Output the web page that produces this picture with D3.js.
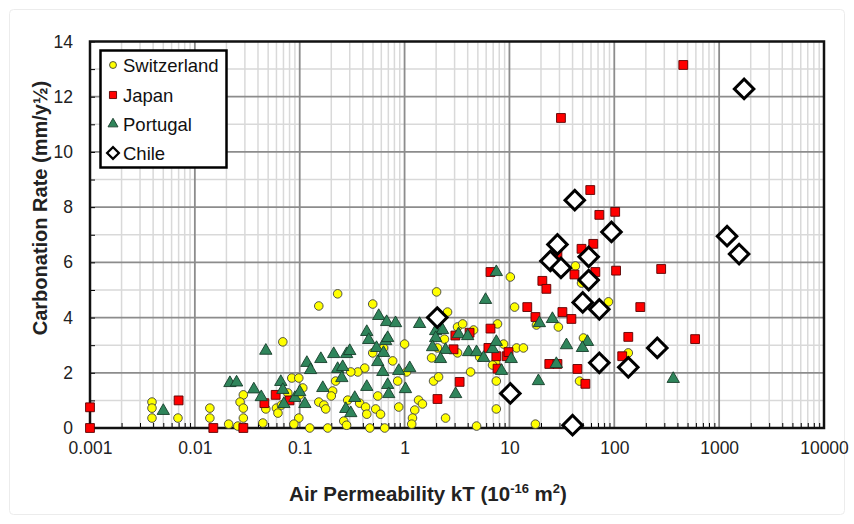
<!DOCTYPE html>
<html>
<head>
<meta charset="utf-8">
<script src="https://cdn.jsdelivr.net/npm/d3@7"></script>
<style>
  html, body { margin: 0; padding: 0; background: #fff; }
  svg { display: block; }
</style>
</head>
<body>
<svg id="chart" width="854" height="524"></svg>
<script>
// ---------------- DATA ----------------
const xTickLabels = ["0.001", "0.01", "0.1", "1", "10", "100", "1000", "10000"];
const yTickLabels = [0, 2, 4, 6, 8, 10, 12, 14];
const seriesNames = ["Switzerland", "Japan", "Portugal", "Chile"];

const switzerland = [
  [0.0039, 0.94], [0.0039, 0.72], [0.0039, 0.36], [0.0069, 0.36], [0.0139, 0.72], [0.0139, 0.36],
  [0.021, 0.14], [0.0257, 0.07], [0.029, 1.2], [0.027, 0.94], [0.029, 0.72], [0.029, 0.36],
  [0.0445, 0.18], [0.0475, 0.69], [0.06, 0.72], [0.062, 0.54], [0.067, 0.83], [0.069, 3.12],
  [0.077, 1.27], [0.084, 1.81], [0.098, 1.81], [0.107, 1.45], [0.1, 1.2], [0.098, 0.36],
  [0.088, 0.14], [0.1246, 0], [0.152, 4.42], [0.152, 0.94], [0.17, 0.83], [0.177, 0.69],
  [0.185, 0], [0.23, 4.86], [0.497, 4.49], [2.02, 4.93], [2.57, 4.2], [1.0, 3.04],
  [0.63, 2.9], [0.497, 2.72], [0.77, 2.43], [0.417, 2.17], [0.358, 2.03], [0.307, 2.03],
  [0.22, 1.7], [0.206, 1.34], [0.2, 1.16], [0.287, 1.01], [0.263, 0.25], [0.28, 0.1],
  [0.373, 0.9], [0.425, 0.76], [0.436, 0.5], [0.466, 0], [0.53, 0.69], [0.59, 0.5],
  [0.555, 1.16], [0.646, 0], [0.86, 1.7], [0.88, 0.76], [1.045, 2.03], [1.25, 0.65],
  [1.19, 0.36], [1.17, 0.14], [1.36, 1.01], [1.48, 0.87], [1.89, 1.7], [2.11, 1.85],
  [1.81, 2.54], [2.06, 2.9], [2.4, 3.22], [2.46, 0.36], [3.2, 3.66], [3.58, 3.77],
  [4.55, 3.55], [7.7, 3.77], [8.8, 3.04], [11.7, 2.9], [13.6, 2.9], [11.2, 4.38],
  [5.2, 2.57], [4.26, 2.03], [7.4, 2.36], [7.5, 1.7], [7.5, 0.69], [4.86, 0.07],
  [17.7, 0.14], [10.2, 5.47], [18.1, 3.73], [29.3, 3.66], [3.2, 2.72], [6.9, 2.28],
  [46.6, 1.7], [42.6, 5.87], [88, 4.57], [50.8, 3.26], [136, 2.72], [48.7, 5.25]
];

const japan = [
  [0.001, 0.75], [0.001, 0], [0.007, 1.0], [0.015, 0], [0.029, 0], [0.046, 0.9],
  [0.059, 1.2], [0.08, 1.0], [2.06, 1.05], [3.35, 1.67], [2.93, 2.85], [3.05, 3.35],
  [4.17, 3.45], [6.6, 3.6], [6.3, 2.9], [7.5, 2.6], [7.7, 2.15], [9.4, 2.6],
  [9.8, 2.75], [6.6, 5.65], [20.6, 5.33], [22.5, 5.04], [41.7, 5.56], [14.8, 4.38],
  [17.7, 4.02], [32, 4.2], [39, 3.95], [24, 2.32], [28.7, 2.32], [44.5, 2.14],
  [59, 8.62], [72, 7.72], [102, 7.83], [63, 6.67], [48.7, 6.49], [66, 5.65],
  [104, 5.7], [280, 5.76], [177, 4.38], [136, 3.3], [119, 2.6], [53, 1.6],
  [455, 13.15], [590, 3.22], [31, 11.23], [28.7, 6.27]
];

const portugal = [
  [0.005, 0.62], [0.0216, 1.63], [0.025, 1.65], [0.0365, 1.4], [0.043, 1.12], [0.0475, 2.8],
  [0.066, 1.67], [0.069, 1.38], [0.0706, 0.87], [0.09, 1.09], [0.1, 1.3], [0.112, 0.87],
  [0.117, 2.36], [0.127, 2.1], [0.159, 2.5], [0.166, 1.45], [0.211, 2.68], [0.23, 2.14],
  [0.252, 1.81], [0.257, 2.21], [0.28, 2.68], [0.3, 2.79], [0.275, 0.69], [0.307, 0.54],
  [0.335, 1.09], [0.436, 3.48], [0.455, 3.19], [0.436, 1.49], [0.567, 4.06], [0.675, 3.84],
  [0.82, 3.8], [0.54, 2.9], [0.66, 3.15], [0.69, 3.26], [0.63, 2.72], [0.555, 2.39],
  [0.62, 2.03], [0.69, 1.56], [0.706, 1.23], [0.88, 2.07], [1.12, 2.17], [1.02, 1.41],
  [1.39, 3.77], [1.98, 3.51], [2.3, 3.55], [1.98, 3.26], [1.85, 2.93], [2.46, 2.83],
  [2.2, 2.5], [3.27, 3.4], [4.0, 3.33], [4.08, 2.75], [4.86, 2.75], [5.67, 2.54],
  [5.92, 4.64], [3.07, 1.23], [6.9, 2.86], [7.5, 3.12], [8.4, 2.07], [18.9, 1.7],
  [19.3, 3.8], [10.4, 2.5], [7.5, 5.65], [25.7, 3.95], [35, 3.0], [28, 2.32],
  [55.5, 3.12], [49.7, 2.9], [365, 1.78]
];

const chile = [
  [2.05, 4.0], [10.2, 1.25], [40, 0.1], [42, 8.25], [28.7, 6.65], [24.6, 6.05],
  [31, 5.8], [57, 6.2], [94, 7.1], [57, 5.36], [50, 4.55], [72, 4.3],
  [72, 2.36], [136, 2.2], [257, 2.9], [1190, 6.95], [1550, 6.3], [1730, 12.28]
];

// ---------------- LAYOUT ----------------
const svg = d3.select("#chart");
const W = 854, H = 524;
const pL = 90, pR = 824, pT = 41.5, pB = 428;

const x = d3.scaleLog().domain([0.001, 10000]).range([pL, pR]);
const y = d3.scaleLinear().domain([0, 14]).range([pB, pT]);

const font = "'Liberation Sans', Arial, sans-serif";

// outer faint frame
svg.append("rect").attr("x", 9.5).attr("y", 9.5).attr("width", W - 19).attr("height", H - 19)
  .attr("rx", 4).attr("fill", "#fff").attr("stroke", "#ececec").attr("stroke-width", 1);

// grid values
const decades = d3.range(-3, 5).map(e => Math.pow(10, e));
const minorX = [];
decades.slice(0, -1).forEach(d => { for (let m = 2; m <= 9; m++) minorX.push(d * m); });
const minorY = d3.range(1, 14, 2);
const majorY = d3.range(2, 14, 2);

const grid = svg.append("g");
grid.selectAll(".mx").data(minorX).join("line")
  .attr("x1", d => x(d)).attr("x2", d => x(d)).attr("y1", pT).attr("y2", pB)
  .attr("stroke", "#d9d9d9").attr("stroke-width", 1.5);
grid.selectAll(".my").data(minorY).join("line")
  .attr("x1", pL).attr("x2", pR).attr("y1", d => y(d)).attr("y2", d => y(d))
  .attr("stroke", "#d9d9d9").attr("stroke-width", 1.5);
grid.selectAll(".Mx").data(decades.slice(1, -1)).join("line")
  .attr("x1", d => x(d)).attr("x2", d => x(d)).attr("y1", pT).attr("y2", pB)
  .attr("stroke", "#8c8c8c").attr("stroke-width", 1.8);
grid.selectAll(".My").data(majorY).join("line")
  .attr("x1", pL).attr("x2", pR).attr("y1", d => y(d)).attr("y2", d => y(d))
  .attr("stroke", "#8c8c8c").attr("stroke-width", 1.8);

// minor ticks (inward)
const xMinorAxis = d3.axisBottom(x).tickValues(minorX).tickSize(-5).tickFormat("");
svg.append("g").attr("transform", `translate(0,${pB})`).call(xMinorAxis)
  .call(g => g.select(".domain").remove())
  .call(g => g.selectAll("line").attr("stroke", "#000").attr("stroke-width", 1));
const yMinorAxis = d3.axisLeft(y).tickValues(d3.range(0, 15, 1)).tickSize(-5).tickFormat("");
svg.append("g").attr("transform", `translate(${pL},0)`).call(yMinorAxis)
  .call(g => g.select(".domain").remove())
  .call(g => g.selectAll("line").attr("stroke", "#000").attr("stroke-width", 1));

// labelled axes
const xAxis = d3.axisBottom(x).tickValues(decades).tickSize(0).tickPadding(14)
  .tickFormat((d, i) => xTickLabels[i]);
svg.append("g").attr("transform", `translate(0,${pB})`).call(xAxis)
  .call(g => g.select(".domain").remove())
  .call(g => g.selectAll("text").attr("font-family", font).attr("font-size", 17.5).attr("fill", "#222"));
const yAxis = d3.axisLeft(y).tickValues(yTickLabels).tickSize(0).tickPadding(17)
  .tickFormat(d => d);
svg.append("g").attr("transform", `translate(${pL},0)`).call(yAxis)
  .call(g => g.select(".domain").remove())
  .call(g => g.selectAll("text").attr("font-family", font).attr("font-size", 17.5).attr("fill", "#222"));

// plot frame
svg.append("rect").attr("x", pL).attr("y", pT).attr("width", pR - pL).attr("height", pB - pT)
  .attr("fill", "none").attr("stroke", "#111").attr("stroke-width", 2.5);

// ---------------- MARKS ----------------
const styles = {
  Switzerland: { type: d3.symbolCircle, size: 58, fill: "#ffff00", stroke: "#404040", sw: 0.9, rot: 0 },
  Japan: { type: d3.symbolSquare, size: 78, fill: "#ff0000", stroke: "#5a0000", sw: 0.9, rot: 0 },
  Portugal: { type: d3.symbolTriangle, size: 66, fill: "#2f855b", stroke: "#173d2a", sw: 0.9, rot: 0 },
  Chile: { type: d3.symbolSquare, size: 190, fill: "#ffffff", stroke: "#000000", sw: 3, rot: 45 }
};
const seriesData = { Switzerland: switzerland, Japan: japan, Portugal: portugal, Chile: chile };

seriesNames.forEach(name => {
  const s = styles[name];
  const sym = d3.symbol().type(s.type).size(s.size);
  svg.append("g").selectAll("path").data(seriesData[name]).join("path")
    .attr("d", sym)
    .attr("transform", d => `translate(${x(d[0])},${y(d[1])}) rotate(${s.rot})`)
    .attr("fill", s.fill).attr("stroke", s.stroke).attr("stroke-width", s.sw);
});

// ---------------- LEGEND ----------------
const lg = svg.append("g");
lg.append("rect").attr("x", 100.5).attr("y", 50.5).attr("width", 126).attr("height", 117)
  .attr("fill", "#fff").attr("stroke", "#000").attr("stroke-width", 2.5);
const legendY = [65, 95, 124, 153];
seriesNames.forEach((name, i) => {
  const s = styles[name];
  const small = name === "Chile" ? 70 : s.size * 0.65;
  lg.append("path").attr("d", d3.symbol().type(s.type).size(small))
    .attr("transform", `translate(113,${legendY[i]}) rotate(${s.rot})`)
    .attr("fill", s.fill).attr("stroke", s.stroke)
    .attr("stroke-width", name === "Chile" ? 2.2 : s.sw);
  lg.append("text").attr("x", 123).attr("y", legendY[i]).attr("dy", "0.36em")
    .attr("font-family", font).attr("font-size", 18.5).attr("fill", "#111").text(name);
});

// ---------------- TITLES ----------------
svg.append("text")
  .attr("transform", `translate(47,208) rotate(-90)`)
  .attr("text-anchor", "middle").attr("font-family", font).attr("font-weight", "bold")
  .attr("font-size", 20).attr("fill", "#222")
  .text("Carbonation Rate (mm/y½)");

const xt = svg.append("text")
  .attr("x", 428).attr("y", 501)
  .attr("text-anchor", "middle").attr("font-family", font).attr("font-weight", "bold")
  .attr("font-size", 20.5).attr("fill", "#222");
xt.append("tspan").text("Air Permeability kT (10");
xt.append("tspan").attr("dy", -8).attr("font-size", 13).text("-16");
xt.append("tspan").attr("dy", 8).text(" m");
xt.append("tspan").attr("dy", -8).attr("font-size", 13).text("2");
xt.append("tspan").attr("dy", 8).text(")");
</script>
</body>
</html>
